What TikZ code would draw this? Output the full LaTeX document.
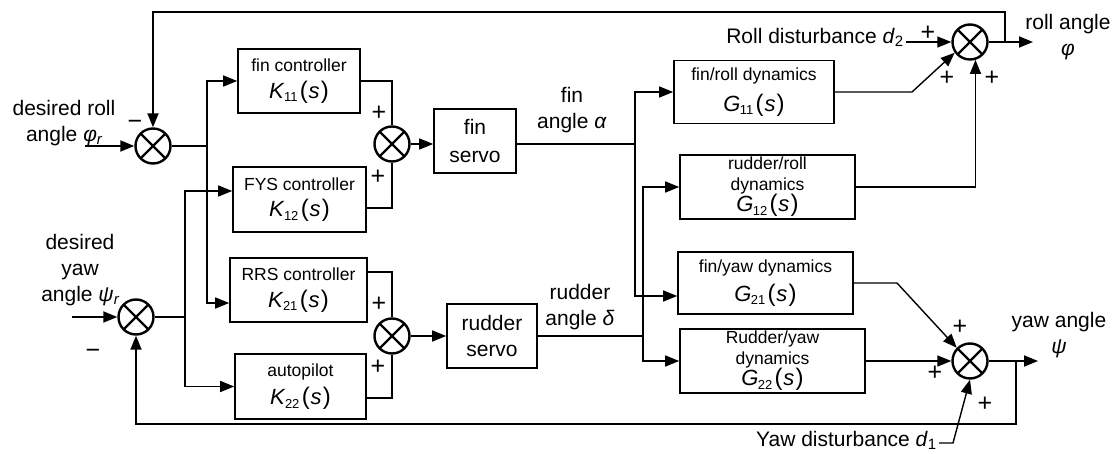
\documentclass[tikz,border=0pt]{standalone}
\usepackage{fontspec}
\setmainfont{Liberation Sans}
\usetikzlibrary{arrows.meta}

% text sizes
\newcommand\lblfont{\fontsize{10.5}{13}\selectfont}
\newcommand\sgnfont{\fontsize{12.5}{13}\selectfont}
\newcommand\boxfont{\fontsize{8.75}{10.5}\selectfont}
\newcommand\lowsub[1]{\raisebox{-1.6pt}{\fontsize{7.5}{8}\selectfont #1}}
% transfer function such as K_{11}(s)
\newcommand\tfn[2]{{\fontsize{11}{13}\selectfont\textit{#1}\kern-0.3pt\raisebox{-1.8pt}{\fontsize{6.5}{7}\selectfont #2}\kern1.2pt{\fontsize{12}{13}\selectfont(}\kern0.4pt\textit{s}\kern0.6pt{\fontsize{12}{13}\selectfont)}}}

\begin{document}
\begin{tikzpicture}[x=0.5pt,y=-0.5pt,
  line width=0.7pt,
  >={Triangle[length=7pt,width=5.5pt]},
  fb/.style={line width=0.9pt},
  blk/.style={draw,line width=0.8pt,align=center,font=\boxfont,inner sep=1pt},
  srv/.style={draw,line width=0.8pt,align=center,font=\lblfont,inner sep=1pt},
  sumpt/.style={draw,circle,line width=1.2pt,minimum size=17.5pt,inner sep=0pt,
    path picture={\draw[line width=1.2pt]
      (path picture bounding box.north west) -- (path picture bounding box.south east)
      (path picture bounding box.north east) -- (path picture bounding box.south west);}},
  sgn/.style={font=\sgnfont,inner sep=0pt},
  lbl/.style={font=\lblfont,align=center,inner sep=0pt}]

\useasboundingbox (0,0) rectangle (1120,454);

% summing points
\node[sumpt] (s1) at (153,146) {};
\node[sumpt] (s3) at (136,317) {};
\node[sumpt] (s2) at (392,144) {};
\node[sumpt] (s4) at (392,336) {};
\node[sumpt] (s5) at (970,42) {};
\node[sumpt] (s6) at (970,361) {};

% controllers
\node[blk,minimum width=61pt,minimum height=32pt] (kA) at (299,81)
  {fin controller\\[2.75pt]\tfn{K}{11}};
\node[blk,minimum width=66.5pt,minimum height=32.5pt] (kB) at (299.5,199.5)
  {FYS controller\\[2.75pt]\tfn{K}{12}};
\node[blk,minimum width=68.5pt,minimum height=32pt] (kC) at (298.5,290)
  {RRS controller\\[2.75pt]\tfn{K}{21}};
\node[blk,minimum width=65.5pt,minimum height=32.5pt] (kD) at (300.5,386.5)
  {autopilot\\[2.75pt]\tfn{K}{22}};

% servos
\node[srv,minimum width=41pt,minimum height=32pt] (fs) at (475,141) {fin\\[1pt]servo};
\node[srv,minimum width=45pt,minimum height=32pt] (rs) at (492,336) {rudder\\servo};

% ship dynamics
\node[blk,minimum width=80pt,minimum height=31.5pt] (gA) at (754,92)
  {fin/roll dynamics\\[4pt]\tfn{G}{11}};
\node[blk,minimum width=87.5pt,minimum height=31pt] (gB) at (767.5,187)
  {rudder/roll\\dynamics\\[-1pt]\tfn{G}{12}};
\node[blk,minimum width=87.5pt,minimum height=31pt] (gC) at (765.5,283)
  {fin/yaw dynamics\\[3pt]\tfn{G}{21}};
\node[blk,minimum width=92.5pt,minimum height=31pt] (gD) at (772.5,361)
  {Rudder/yaw\\dynamics\\[-1pt]\tfn{G}{22}};

% branch points and free ends
\coordinate (rin) at (85,146);
\coordinate (yin) at (72,317);
\coordinate (jA) at (207,146);
\coordinate (jB) at (185,317);
\coordinate (jF) at (635,144);
\coordinate (jR) at (643,336);
\coordinate (gAk) at (912,92);
\coordinate (gCk) at (897,283);
\coordinate (d2s) at (906,42);
\coordinate (d1s) at (939,443);
\coordinate (d1k) at (953,443);
\coordinate (jT) at (1005,42);
\coordinate (rout) at (1033,42);
\coordinate (topL) at (153,12);
\coordinate (jY) at (1016,361);
\coordinate (yout) at (1038,361);
\coordinate (botL) at (136,424);

% reference inputs
\draw[->,fb] (rin) -- (s1.west);
\draw[->,fb] (yin) -- (s3.west);

% distribution to controllers
\draw (s1.east) -- (jA);
\draw[->] (jA) |- (kA.west);
\draw[->] (jA) |- ([yshift=-6.5pt]kC.west);
\draw (s3.east) -- (jB);
\draw[->] (jB) |- ([yshift=4.25pt]kB.west);
\draw[->] (jB) |- (kD.west);

% controller sums
\draw (kA.east) -| (s2.north);
\draw ([yshift=-4.25pt]kB.east) -| (s2.south);
\draw ([yshift=9pt]kC.east) -| (s4.north);
\draw ([yshift=-5.75pt]kD.east) -| (s4.south);

% servos
\draw[->] (s2.east) -- (fs.west |- s2.east);
\draw[->] (s4.east) -- (rs.west |- s4.east);
\draw (fs.east |- jF) -- (jF);
\draw (rs.east |- jR) -- (jR);
\draw[->] (jF) |- (gA.west);
\draw[->] (jF) |- ([yshift=-6.5pt]gC.west);
\draw[->] (jR) |- (gB.west);
\draw[->] (jR) |- (gD.west);

% roll channel output
\draw[->] (gA.east) -- (gAk) -- (s5.215);
\draw[->] (gB.east) -| (s5.-73);
\draw[->] (d2s) -- (s5.west);
\draw[->,fb] (s5.east) -- (rout);
\draw[->,fb] (jT) |- (topL) -- (s1.north);

% yaw channel output
\draw[->] (gC.east) -- (gCk) -- (s6.135);
\draw[->] (gD.east) -- (s6.west);
\draw[->] (d1s) -- (d1k) -- (s6.south);
\draw[->,fb] (s6.east) -- (yout);
\draw[->,fb] (jY) |- (botL) -- (s3.south);

% signal labels
\node[lbl] (tRollIn) at (64,123) {desired roll\\angle \textit{φ\lowsub{r}}};
\node[lbl] (tYawIn) at (80,270) {desired\\yaw\\angle \textit{ψ\lowsub{r}}};
\node[lbl] (tFin) at (572,110) {fin\\angle \textit{α}};
\node[lbl] (tRud) at (580,307) {rudder\\angle \textit{δ}};
\node[lbl] (tRollOut) at (1068,37) {roll angle\\\textit{φ}};
\node[lbl] (tYawOut) at (1059,335) {yaw angle\\\textit{ψ}};
\node[lbl,anchor=east] (tD2) at (904,37) {Roll disturbance \textit{d}\lowsub{2}};
\node[lbl,anchor=east] (tD1) at (937,440) {Yaw disturbance \textit{d}\lowsub{1}};

% signs at the summing points
\node[sgn] (m1) at (135,125) {−};
\node[sgn] (m3) at (93,354) {−};
\node[sgn] (p21) at (379,113) {+};
\node[sgn] (p22) at (378,177) {+};
\node[sgn] (p41) at (379,304) {+};
\node[sgn] (p42) at (378,367) {+};
\node[sgn] (p51) at (928,33) {+};
\node[sgn] (p52) at (947,78) {+};
\node[sgn] (p53) at (992,78) {+};
\node[sgn] (p61) at (960,327) {+};
\node[sgn] (p62) at (935,373) {+};
\node[sgn] (p63) at (985,404) {+};
\end{tikzpicture}
\end{document}
